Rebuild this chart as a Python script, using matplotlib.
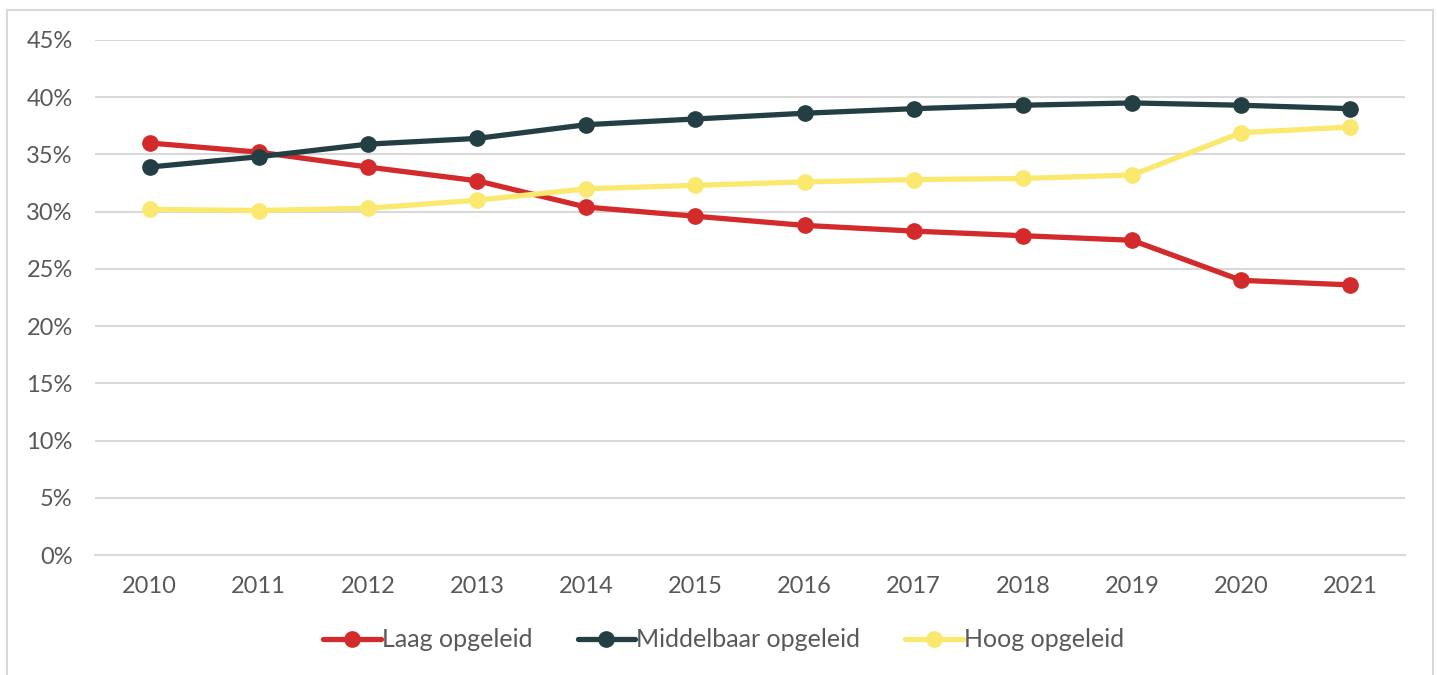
import matplotlib.pyplot as plt
from matplotlib.patches import Rectangle
from matplotlib.ticker import PercentFormatter

plt.rcParams['font.family'] = ['Lato', 'DejaVu Sans']

years = ["2010", "2011", "2012", "2013", "2014", "2015",
         "2016", "2017", "2018", "2019", "2020", "2021"]
laag = [36.0, 35.2, 33.9, 32.7, 30.4, 29.6, 28.8, 28.3, 27.9, 27.5, 24.0, 23.6]
middelbaar = [33.9, 34.8, 35.9, 36.4, 37.6, 38.1, 38.6, 39.0, 39.3, 39.5, 39.3, 39.0]
hoog = [30.2, 30.1, 30.3, 31.0, 32.0, 32.3, 32.6, 32.8, 32.9, 33.2, 36.9, 37.4]

series = [("Laag opgeleid", laag, "#D32B2B"),
          ("Middelbaar opgeleid", middelbaar, "#243F44"),
          ("Hoog opgeleid", hoog, "#FBE86F")]

fig = plt.figure(figsize=(14.37, 6.75), dpi=100)
ax = fig.add_axes([95 / 1437, 1 - 555 / 675, 1310 / 1437, 515 / 675])

# light frame round the chart
fig.patches.append(Rectangle((7 / 1437, -0.05), 1426 / 1437, 1 - 10 / 675 + 0.05,
                             transform=fig.transFigure, fill=False,
                             edgecolor="#D9D9D9", linewidth=1.5))

x = range(len(years))
for name, vals, col in series:
    ax.plot(x, vals, color=col, lw=3.8, marker="o", markersize=11,
            solid_capstyle="round", label=name, zorder=3)

ax.set_xlim(-0.5, len(years) - 0.5)
ax.set_ylim(0, 45)
ax.set_yticks(range(0, 46, 5))
ax.yaxis.set_major_formatter(PercentFormatter(decimals=0))
ax.set_xticks(list(x))
ax.set_xticklabels(years)
ax.grid(axis="y", color="#D9D9D9", lw=1.5)
ax.set_axisbelow(True)
for s in ax.spines.values():
    s.set_visible(False)
ax.spines["bottom"].set_visible(True)
ax.spines["bottom"].set_color("#D9D9D9")
ax.spines["bottom"].set_linewidth(1.5)
ax.tick_params(length=0, labelsize=17, colors="#595959")
ax.tick_params(axis="y", pad=16)
ax.tick_params(axis="x", pad=15)

ax.legend(loc="center", bbox_to_anchor=(0.48, -0.165), ncol=3,
          frameon=False, fontsize=18, labelcolor="#595959",
          handlelength=2.3, handletextpad=0.05, columnspacing=1.8)

fig.savefig("out.png", dpi=100)
